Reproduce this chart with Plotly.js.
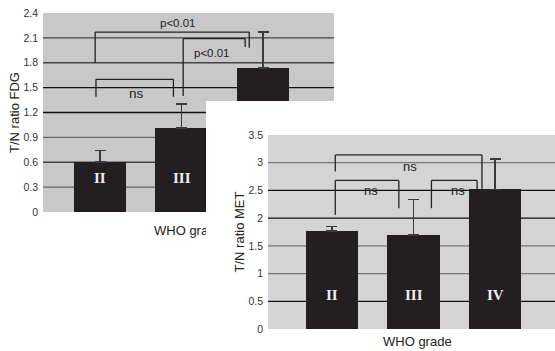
<!DOCTYPE html>
<html>
<head>
<meta charset="utf-8">
<script src="https://cdn.plot.ly/plotly-3.0.1.min.js"></script>
<style>
  html, body { margin: 0; padding: 0; background: #fff; }
  #fdg { position: absolute; left: 0; top: 0; width: 555px; height: 351px; }
  #met { position: absolute; left: 206px; top: 101px; width: 349px; height: 250px; background: #fff; }
</style>
</head>
<body>
<div id="fdg"></div>
<div id="met"></div>
<script>
// ---- data ----
const grades = ['II', 'III', 'IV'];
const fdgMean = [0.60, 1.01, 1.74];
const fdgErr  = [0.14, 0.29, 0.43];
const metMean = [1.77, 1.70, 2.52];
const metErr  = [0.08, 0.64, 0.55];

const fdgTicks = [0, 0.3, 0.6, 0.9, 1.2, 1.5, 1.8, 2.1, 2.4];
const metTicks = [0, 0.5, 1, 1.5, 2, 2.5, 3, 3.5];

// significance brackets: [fromIdx, toIdx, top, leftEnd, rightEnd, label, labelX, labelY]
const fdgBrackets = [
  [-0.05, 0.90, 1.60, 1.39, 1.39, 'ns',     0.45, 1.43],
  [-0.06, 1.83, 2.17, 1.80, 1.98, 'p<0.01', 0.96, 2.28],
  [ 1.02, 1.78, 2.09, 1.40, 1.99, 'p<0.01', 1.37, 1.92]
];
const metBrackets = [
  [0.04, 1.84, 3.14, 2.84, 2.53, 'ns', 0.96, 2.94],
  [0.04, 0.82, 2.68, 2.06, 2.18, 'ns', 0.48, 2.50],
  [1.22, 1.78, 2.68, 2.18, 2.51, 'ns', 1.55, 2.50]
];

// gridline shades (scan look)
const fdgGridColor = ['#666', '#444', '#666', '#111', '#111', '#444', '#444'];
const metGridColor = ['#111', '#777', '#777', '#111', '#111', '#777'];

const tickFont = {family: 'Liberation Sans, Arial, sans-serif', size: 10.5, color: '#333'};
const titleFont = {family: 'Liberation Sans, Arial, sans-serif', size: 13, color: '#222'};

function bracketShapes(list) {
  const s = [];
  const ln = {color: '#222', width: 1.3};
  list.forEach(b => {
    s.push({type: 'line', xref: 'x', yref: 'y', x0: b[0], x1: b[0], y0: b[3], y1: b[2], line: ln});
    s.push({type: 'line', xref: 'x', yref: 'y', x0: b[0], x1: b[1], y0: b[2], y1: b[2], line: ln});
    s.push({type: 'line', xref: 'x', yref: 'y', x0: b[1], x1: b[1], y0: b[2], y1: b[4], line: ln});
  });
  return s;
}
function bracketLabels(list, size) {
  return list.map(b => ({
    x: b[6], y: b[7], xref: 'x', yref: 'y', text: b[5], showarrow: false,
    font: {family: 'Liberation Sans, Arial, sans-serif', size: size, color: '#222'}
  }));
}
function gridShapes(ticks, colors) {
  return ticks.slice(1, 1 + colors.length).map((v, i) => ({
    type: 'line', xref: 'x domain', yref: 'y', x0: 0, x1: 1, y0: v, y1: v,
    layer: 'below', line: {color: colors[i], width: 1.3}
  }));
}
function numeralLabels(level) {
  return grades.map(g => ({
    x: g, y: level, xref: 'x', yref: 'y', text: '<b>' + g + '</b>', showarrow: false,
    font: {family: 'Liberation Serif, Times New Roman, serif', size: 15, color: '#eee'}
  }));
}
function barTrace(means, errs) {
  return {
    type: 'bar', x: grades, y: means, width: 0.64,
    marker: {color: '#231f20', line: {width: 0}},
    error_y: {type: 'data', symmetric: false, array: errs, arrayminus: errs.map(() => 0),
              color: '#3a3a3a', thickness: 1.6, width: 5.5},
    hoverinfo: 'skip'
  };
}

// ---- FDG (upper-left, partly covered) ----
const fdgLayout = {
  width: 555, height: 351,
  margin: {l: 43, r: 221, t: 13, b: 139},
  paper_bgcolor: '#fff', plot_bgcolor: '#c8c8c8',
  showlegend: false, bargap: 0,
  xaxis: {type: 'category', range: [-0.70, 2.87], showticklabels: false, ticks: '',
          showgrid: false, zeroline: false, showline: false, fixedrange: true},
  yaxis: {range: [0, 2.4], tickvals: fdgTicks, ticks: '', ticklabelstandoff: 4,
          showgrid: false, zeroline: false, showline: false, tickfont: tickFont,
          title: {text: 'T/N ratio FDG', font: titleFont, standoff: 0}},
  shapes: gridShapes(fdgTicks, fdgGridColor).concat(bracketShapes(fdgBrackets)),
  annotations: bracketLabels(fdgBrackets.slice(0, 1), 13.5)
    .concat(bracketLabels(fdgBrackets.slice(1), 11.5))
    .concat(numeralLabels(0.41))
    .concat([{x: 0.5, y: -0.095, xref: 'paper', yref: 'paper', text: 'WHO grade', showarrow: false,
              yanchor: 'middle', font: titleFont}])
};
Plotly.newPlot('fdg', [barTrace(fdgMean, fdgErr)], fdgLayout, {staticPlot: true, displayModeBar: false});

// ---- MET (lower-right, on top) ----
const metLayout = {
  width: 349, height: 250,
  margin: {l: 62, r: 0, t: 34, b: 22},
  paper_bgcolor: '#fff', plot_bgcolor: '#d4d4d4',
  showlegend: false, bargap: 0,
  xaxis: {type: 'category', range: [-0.785, 2.736], showticklabels: false, ticks: '',
          showgrid: false, zeroline: false, showline: false, fixedrange: true},
  yaxis: {range: [0, 3.5], tickvals: metTicks, ticks: '', ticklabelstandoff: 4,
          showgrid: false, zeroline: false, showline: false, tickfont: tickFont,
          title: {text: 'T/N ratio MET', font: titleFont, standoff: 0}},
  shapes: gridShapes(metTicks, metGridColor).concat(bracketShapes(metBrackets)),
  annotations: bracketLabels(metBrackets, 13)
    .concat(numeralLabels(0.61))
    .concat([{x: 0.521, y: -0.062, xref: 'paper', yref: 'paper', text: 'WHO grade', showarrow: false,
              yanchor: 'middle', font: titleFont}])
};
Plotly.newPlot('met', [barTrace(metMean, metErr)], metLayout, {staticPlot: true, displayModeBar: false});
</script>
</body>
</html>
